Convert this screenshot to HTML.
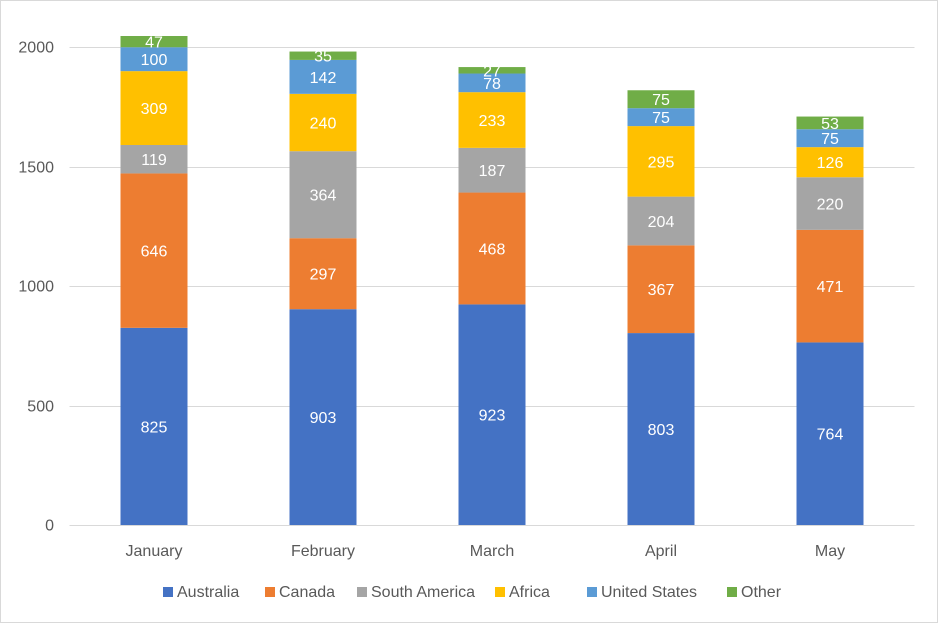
<!DOCTYPE html>
<html><head><meta charset="utf-8"><style>
html,body{margin:0;padding:0;background:#fff;}
svg{display:block;font-family:"Liberation Sans",Arial,sans-serif;}
</style></head><body>
<svg id="chart" width="938" height="623" viewBox="0 0 938 623" xmlns="http://www.w3.org/2000/svg">
<rect x="0.5" y="0.5" width="937" height="622" fill="#fff" stroke="#d9d9d9"/>
<g id="grid"></g><g id="bars"></g><g id="labels"></g><g id="axis"></g><g id="legend"></g>
</svg>
<script>
const categories=["January","February","March","April","May"];
const seriesNames=["Australia","Canada","South America","Africa","United States","Other"];
const colors=["#4472c4","#ed7d31","#a5a5a5","#ffc000","#5b9bd5","#70ad47"];
const australia=[825,903,923,803,764];
const canada=[646,297,468,367,471];
const southAmerica=[119,364,187,204,220];
const africa=[309,240,233,295,126];
const unitedStates=[100,142,78,75,75];
const other=[47,35,27,75,53];
const yTicks=[0,500,1000,1500,2000];
const series=[australia,canada,southAmerica,africa,unitedStates,other];
const NS="http://www.w3.org/2000/svg";
const plotL=69.5,plotR=914.5,y0=525,y2000=47;
const yScale=v=>y0-(v/2000)*(y0-y2000);
const band=(plotR-plotL)/categories.length;
const xCenter=i=>plotL+band*(i+0.5);
const barW=67;
function mk(tag,attrs,parent){const e=document.createElementNS(NS,tag);for(const k in attrs)e.setAttribute(k,attrs[k]);parent.appendChild(e);return e;}
const grid=document.getElementById('grid'),axis=document.getElementById('axis');
yTicks.forEach(t=>{
  const y=Math.round(yScale(t))+0.5;
  const l=mk('line',{x1:plotL,x2:plotR,y1:y,y2:y,stroke:'#d9d9d9','stroke-width':1},grid);
  
  
  const tx=mk('text',{x:54,y:y+5,'text-anchor':'end','font-size':16,fill:'#595959'},axis);
  tx.textContent=t;
  
  
});
categories.forEach((c,i)=>{
  const tx=mk('text',{x:xCenter(i),y:556,'text-anchor':'middle','font-size':16,fill:'#595959'},axis);
  tx.textContent=c;
  
  
});
const bars=document.getElementById('bars'),labels=document.getElementById('labels');
categories.forEach((c,i)=>{
  let cum=0;
  series.forEach((s,j)=>{
    const v=s[i];const yt=yScale(cum+v),yb=yScale(cum);
    const r=mk('rect',{x:xCenter(i)-barW/2,y:yt,width:barW,height:yb-yt,fill:colors[j]},bars);
    
    
    const tx=mk('text',{x:xCenter(i),y:(yt+yb)/2+6,'text-anchor':'middle','font-size':16,fill:'#fff'},labels);
    tx.textContent=v;
    
    
    cum+=v;
  });
});
const legend=document.getElementById('legend');
const legX=[163,265,357,495,587,727];
seriesNames.forEach((n,j)=>{
  const g=mk('g',{},legend);
  
  
  mk('rect',{x:legX[j],y:587,width:10,height:10,fill:colors[j]},g);
  const tx=mk('text',{x:legX[j]+14,y:597,'font-size':16,fill:'#595959'},g);
  tx.textContent=n;
});
</script>
</body></html>
